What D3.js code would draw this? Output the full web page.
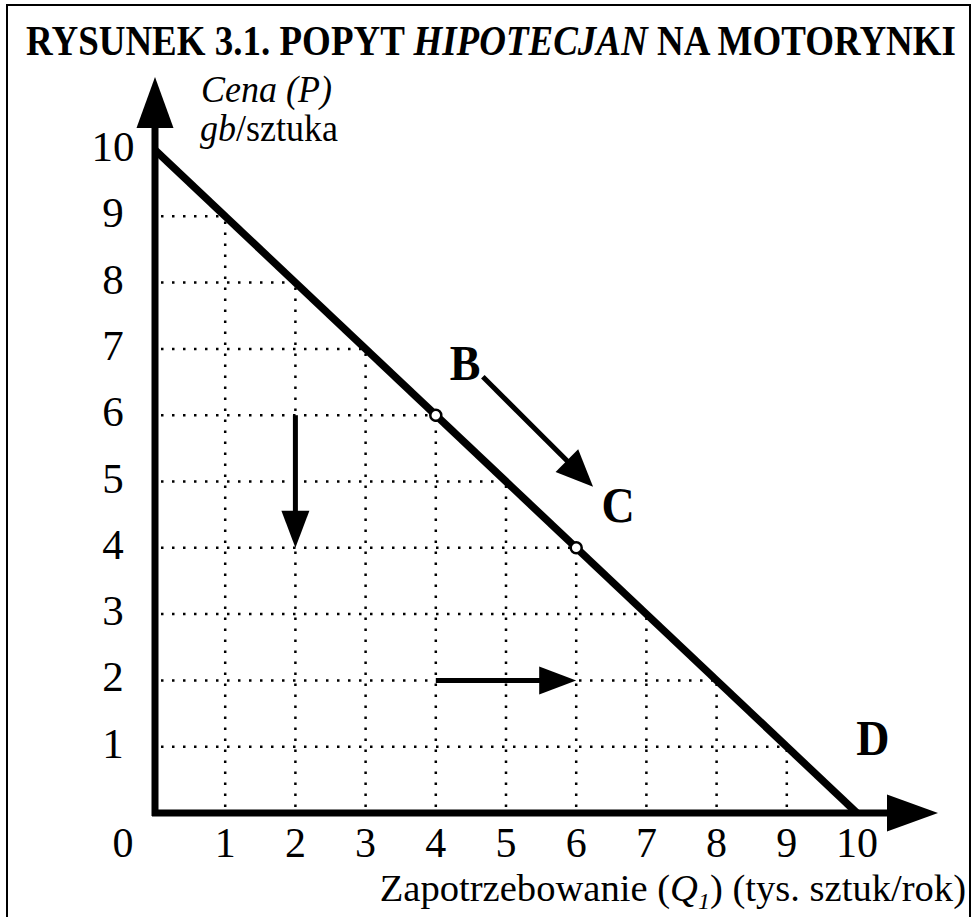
<!DOCTYPE html>
<html>
<head>
<meta charset="utf-8">
<script src="https://cdn.jsdelivr.net/npm/d3@7"></script>
<style>
    body { margin: 0; background: #fff; }
    text { font-family: "Liberation Serif", "Times New Roman", serif; fill: #000; }
</style>
</head>
<body>
<div id="chart"></div>
<script>
// values
var qtyTicks = [0, 1, 2, 3, 4, 5, 6, 7, 8, 9, 10];
var priceTicks = [1, 2, 3, 4, 5, 6, 7, 8, 9, 10];
var gridSteps = [1, 2, 3, 4, 5, 6, 7, 8, 9];
var demand = [[0, 10], [10, 0]];
var points = [[4, 6], [6, 4]];
var pointNames = ["B", "C", "D"];
var nameAt = [[4.2, 6.53], [6.36, 4.39], [9.99, 0.87]];
var moves = [
    [[4.67, 6.58], [6.24, 4.92]],
    [[2, 6], [2, 4]],
    [[4, 2], [6, 2]]
];

var w = 976, h = 917;
var margin = {top: 150, right: 119, bottom: 104, left: 155};

var x = d3.scaleLinear().domain([0, 10]).range([margin.left, w - margin.right]);
var y = d3.scaleLinear().domain([0, 10]).range([h - margin.bottom, margin.top]);

var svg = d3.select("#chart").append("svg")
    .attr("width", w)
    .attr("height", h);

// frame
svg.append("rect")
    .attr("x", 7).attr("y", 5)
    .attr("width", 963).attr("height", 930)
    .attr("fill", "none")
    .attr("stroke", "#000")
    .attr("stroke-width", 2);

// the source type is a bit taller than Liberation, so stretch it a little
var title = svg.append("text")
    .attr("transform", "translate(491,55) scale(1,1.12)")
    .attr("text-anchor", "middle")
    .style("font-size", "37px")
    .style("font-weight", "bold");
title.append("tspan").text("RYSUNEK 3.1. POPYT ");
title.append("tspan").style("font-style", "italic").text("HIPOTECJAN");
title.append("tspan").text(" NA MOTORYNKI");

// dotted grid under the demand line
var grid = svg.append("g")
    .attr("stroke", "#000")
    .attr("stroke-width", 2.5)
    .attr("stroke-dasharray", "2.5,8.5");

grid.selectAll(".hgrid")
    .data(gridSteps)
    .enter().append("line")
    .attr("x1", x(0) + 6)
    .attr("x2", function (d) { return x(10 - d); })
    .attr("y1", function (d) { return y(d); })
    .attr("y2", function (d) { return y(d); });

grid.selectAll(".vgrid")
    .data(gridSteps)
    .enter().append("line")
    .attr("x1", function (d) { return x(d); })
    .attr("x2", function (d) { return x(d); })
    .attr("y1", y(0) - 6)
    .attr("y2", function (d) { return y(10 - d); });

function arrow(g, x1, y1, x2, y2, sw, len, wid) {
    var dx = x2 - x1, dy = y2 - y1;
    var l = Math.sqrt(dx * dx + dy * dy);
    var ux = dx / l, uy = dy / l;
    var bx = x2 - ux * len, by = y2 - uy * len;
    g.append("line")
        .attr("x1", x1).attr("y1", y1)
        .attr("x2", bx + ux * 2).attr("y2", by + uy * 2)
        .attr("stroke", "#000")
        .attr("stroke-width", sw);
    g.append("path")
        .attr("d", "M" + x2 + "," + y2 +
            "L" + (bx - uy * wid / 2) + "," + (by + ux * wid / 2) +
            "L" + (bx + uy * wid / 2) + "," + (by - ux * wid / 2) + "Z")
        .attr("fill", "#000");
}

// axes with arrow heads
var axes = svg.append("g");
arrow(axes, x(0), y(0) + 3, x(0), 77, 7, 51, 37);
arrow(axes, x(0) - 3, y(0), 938, y(0), 7, 51, 37);

// demand curve
svg.append("path")
    .datum(demand)
    .attr("d", d3.line()
        .x(function (d) { return x(d[0]); })
        .y(function (d) { return y(d[1]); }))
    .attr("fill", "none")
    .attr("stroke", "#000")
    .attr("stroke-width", 7.5);

svg.selectAll(".pt")
    .data(points)
    .enter().append("circle")
    .attr("cx", function (d) { return x(d[0]); })
    .attr("cy", function (d) { return y(d[1]); })
    .attr("r", 5.5)
    .attr("fill", "#fff")
    .attr("stroke", "#000")
    .attr("stroke-width", 2.5);

// movement arrows
var mv = svg.append("g");
moves.forEach(function (m, i) {
    arrow(mv, x(m[0][0]), y(m[0][1]), x(m[1][0]), y(m[1][1]), 5, 37, i == 0 ? 32 : 28);
});

svg.selectAll(".name")
    .data(pointNames)
    .enter().append("text")
    .attr("transform", function (d, i) {
        return "translate(" + x(nameAt[i][0]) + "," + y(nameAt[i][1]) + ") scale(1,1.08)";
    })
    .style("font-size", "46px")
    .style("font-weight", "bold")
    .text(function (d) { return d; });

// tick labels
svg.selectAll(".ytick")
    .data(priceTicks)
    .enter().append("text")
    .attr("x", 113)
    .attr("y", function (d) { return y(d) + 11; })
    .attr("text-anchor", "middle")
    .style("font-size", "43px")
    .text(function (d) { return d; });

svg.selectAll(".xtick")
    .data(qtyTicks)
    .enter().append("text")
    .attr("x", function (d) { return d == 0 ? 123 : x(d); })
    .attr("y", 857)
    .attr("text-anchor", "middle")
    .style("font-size", "42px")
    .text(function (d) { return d; });

// axis titles
var yt = svg.append("text")
    .attr("transform", "translate(201,102) scale(1,1.08)")
    .style("font-size", "36px");
yt.append("tspan").style("font-style", "italic").text("Cena (P)");

var yt2 = svg.append("text")
    .attr("transform", "translate(200,141) scale(1,1.08)")
    .style("font-size", "36px");
yt2.append("tspan").style("font-style", "italic").text("gb");
yt2.append("tspan").text("/sztuka");

var xt = svg.append("text")
    .attr("x", 966).attr("y", 901)
    .attr("text-anchor", "end")
    .style("font-size", "38.6px");
xt.append("tspan").text("Zapotrzebowanie (");
xt.append("tspan").style("font-style", "italic").text("Q");
xt.append("tspan").style("font-style", "italic").style("font-size", "24px").attr("dy", 8).text("1");
xt.append("tspan").attr("dy", -8).text(") (tys. sztuk/rok)");
</script>
</body>
</html>
